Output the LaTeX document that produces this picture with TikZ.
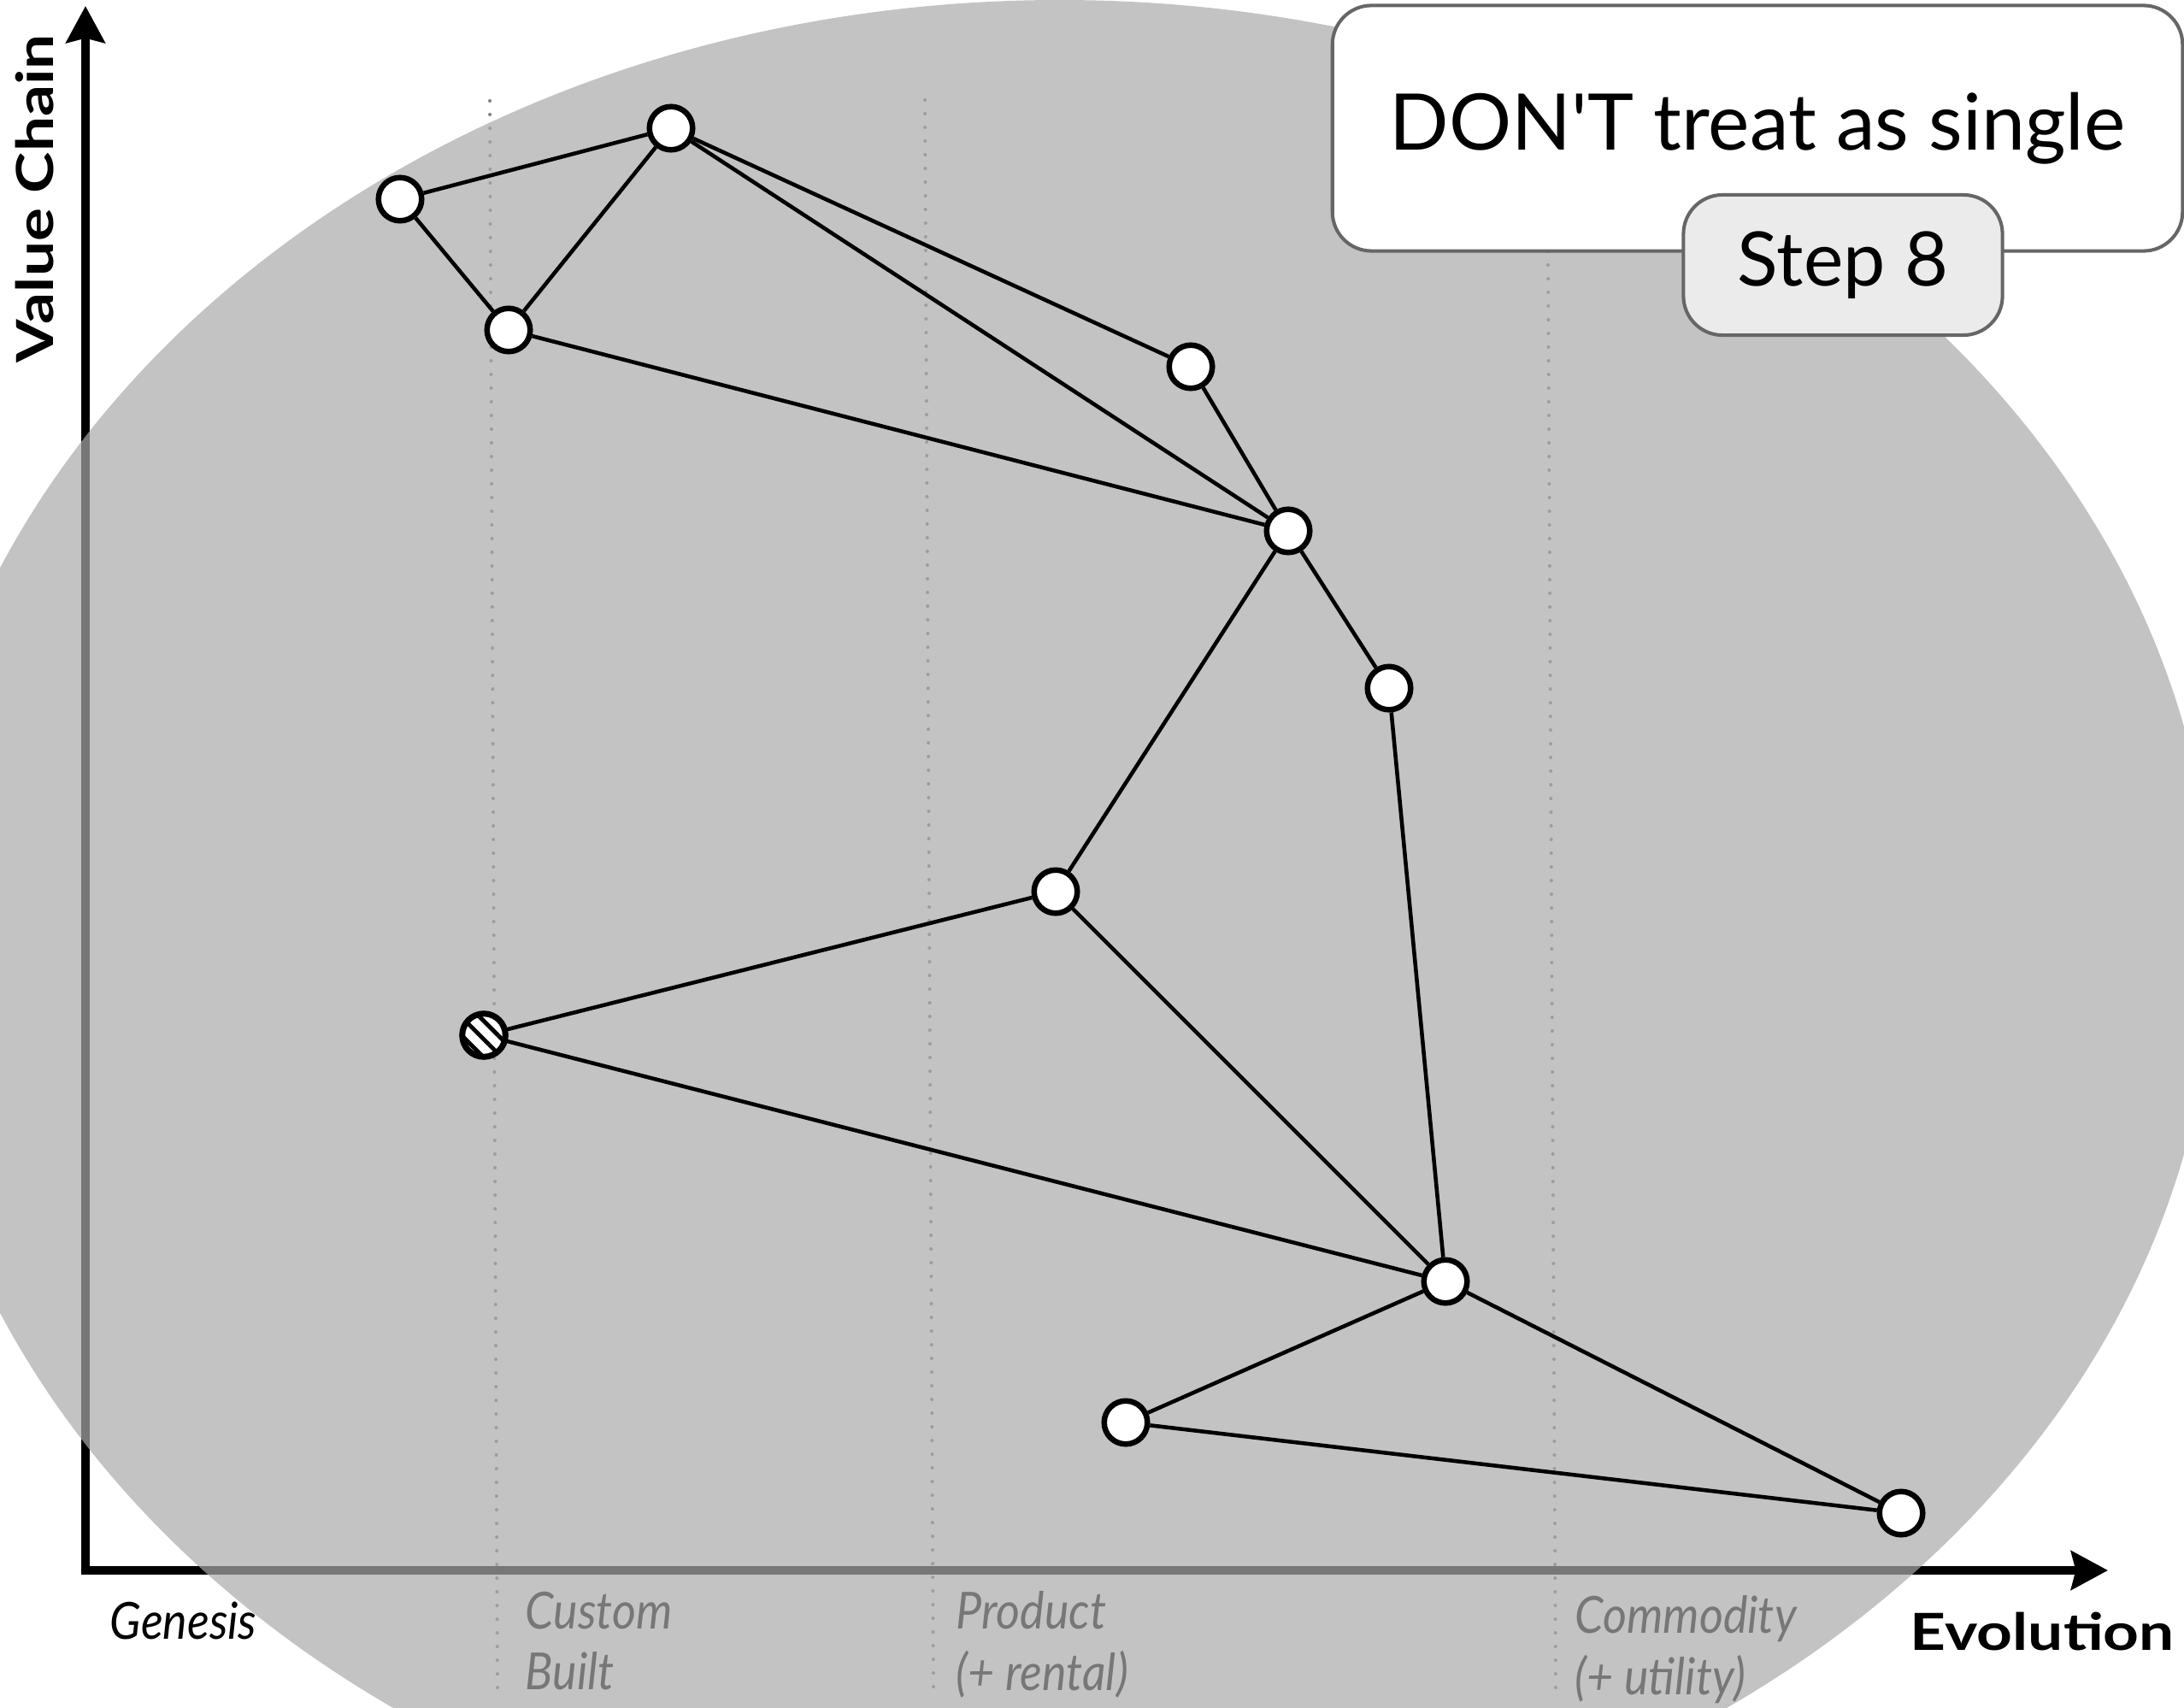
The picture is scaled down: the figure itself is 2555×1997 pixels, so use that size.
\documentclass[tikz,border=0pt]{standalone}
\usepackage{fontspec}
\setmainfont{Lato}[Ligatures=TeXOff]
\newfontfamily\stagefont[FakeStretch=0.9]{Lato}
\newfontfamily\axisfont[FakeStretch=1.22]{Lato}
\usetikzlibrary{arrows.meta,patterns.meta}

\definecolor{veil}{gray}{0.667}
\definecolor{boxline}{HTML}{666666}
\definecolor{tagfill}{HTML}{EBEBEB}
\definecolor{guideline}{HTML}{808080}

\begin{document}
\begin{tikzpicture}[x=0.01cm,y=-0.01cm,
  axisline/.style={line width=2.8pt, line join=miter,
    {Stealth[length=12.2pt,width=12.8pt,inset=1.5pt]}-{Stealth[length=12.2pt,width=12.8pt,inset=1.5pt]}},
  guide/.style={draw=guideline, line width=1.15pt, line cap=round, dash pattern=on 0pt off 4.55pt},
  stage/.style={font=\stagefont\itshape\fontsize{17}{20.3}\selectfont, align=left, inner sep=0pt},
  axislabel/.style={font=\axisfont\bfseries\fontsize{17}{20}\selectfont, inner sep=0pt},
  dot/.style={circle, draw=black, fill=white, line width=1.85pt, minimum size=0.505cm, inner sep=0pt},
  hatched/.style={dot, line width=2pt, preaction={fill=white}, pattern={Lines[angle=-45,distance=4.3pt,line width=1.4pt]}},
  link/.style={draw=black, line width=1.3pt},
  msgbox/.style={draw=boxline, line width=1.15pt, rounded corners=13pt, inner sep=0pt}
]
\useasboundingbox (0,0) rectangle (2555,1997);

% axes
\coordinate (origin) at (100,1837);
\coordinate (xend) at (2466,1837);
\coordinate (yend) at (100,7);
\draw[axisline] (xend) -- (origin) -- (yend);

% evolution stage boundaries
\coordinate (g1a) at (573,118);  \coordinate (g1b) at (582,1985);
\coordinate (g2a) at (1082,117); \coordinate (g2b) at (1092,1985);
\coordinate (g3a) at (1810,118); \coordinate (g3b) at (1820,1985);
\draw[guide] (g1a) -- (g1b);
\draw[guide] (g2a) -- (g2b);
\draw[guide] (g3a) -- (g3b);

% stage and axis labels
\node[stage, anchor=base west] (genesis) at (128,1917) {Genesis};
\node[stage, anchor=north west] (custom) at (614,1861) {Custom\\Built};
\node[stage, anchor=north west] (product) at (1118,1861) {Product\\(+ rental)};
\node[stage, anchor=north west] (commodity) at (1842,1866) {Commodity\\(+ utility)};
\node[axislabel, anchor=base west] (evolution) at (2234,1930) {Evolution};
\node[axislabel, anchor=base west, rotate=90] (valuechain) at (62,425) {Value Chain};

% translucent veil over the map
\fill[veil, fill opacity=0.7] (1240,1100) ellipse [x radius=1350, y radius=1100];

% components
\node[dot] (n1) at (468,233) {};
\node[dot] (n2) at (785,150) {};
\node[dot] (n3) at (595,386) {};
\node[dot] (n4) at (1393,429) {};
\node[dot] (n5) at (1507,621) {};
\node[dot] (n6) at (1625,805) {};
\node[dot] (n7) at (1235,1043) {};
\node[hatched] (n8) at (566,1211) {};
\node[dot] (n9) at (1691,1499) {};
\node[dot] (n10) at (1317,1664) {};
\node[dot] (n11) at (2224,1770) {};

% dependencies
\draw[link] (n1) -- (n2);
\draw[link] (n1) -- (n3);
\draw[link] (n3) -- (n2);
\draw[link] (n2) -- (n4);
\draw[link] (n2) -- (n5);
\draw[link] (n3) -- (n5);
\draw[link] (n4) -- (n5);
\draw[link] (n5) -- (n6);
\draw[link] (n5) -- (n7);
\draw[link] (n6) -- (n9);
\draw[link] (n7) -- (n8);
\draw[link] (n7) -- (n9);
\draw[link] (n8) -- (n9);
\draw[link] (n9) -- (n10);
\draw[link] (n9) -- (n11);
\draw[link] (n10) -- (n11);

% message and step tag
\node[msgbox, fill=white, minimum width=9.94cm, minimum height=2.87cm,
      font=\fontsize{26}{30}\selectfont] (msg) at (2056,150) {DON'T treat as single};
\node[msgbox, fill=tagfill, minimum width=3.73cm, minimum height=1.64cm,
      font=\fontsize{25}{30}\selectfont] (tag) at (2156,310) {Step 8};
\end{tikzpicture}
\end{document}
